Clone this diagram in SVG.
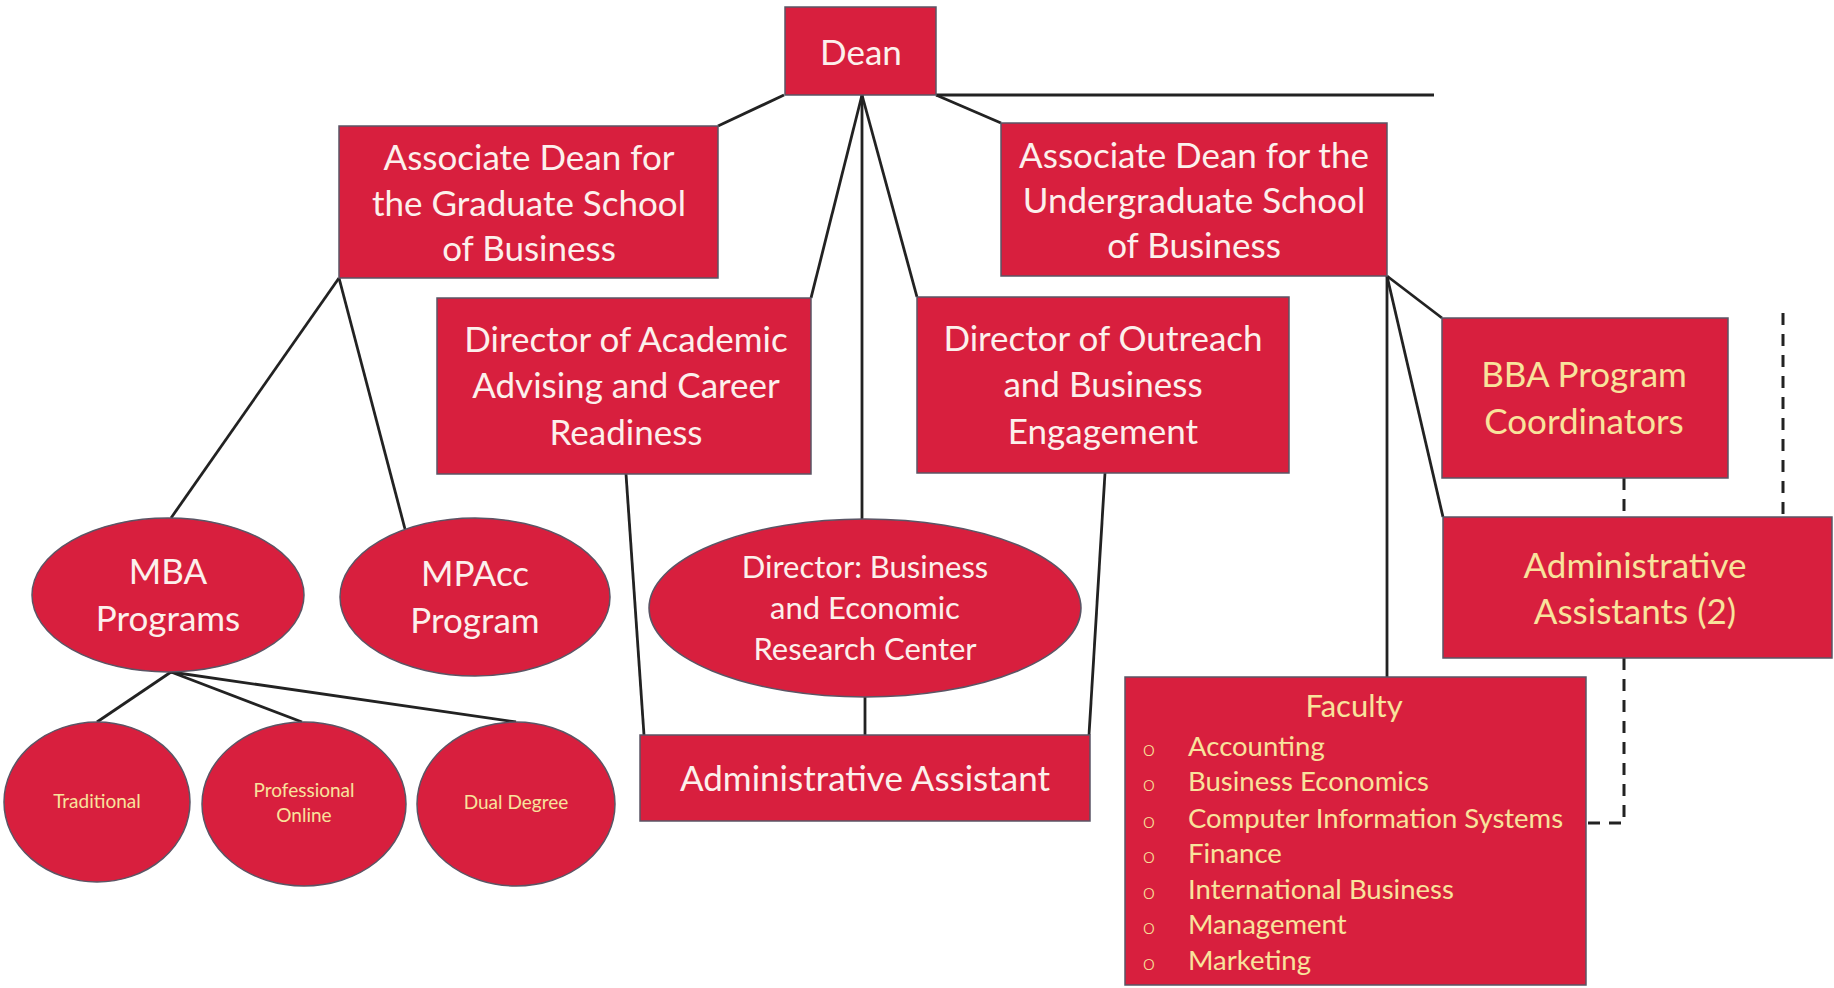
<svg xmlns="http://www.w3.org/2000/svg" width="1834" height="988" viewBox="0 0 1834 988">
<style>
.box{fill:#D81F3E;stroke:#5b5565;stroke-width:1.5}
.ln{stroke:#222;stroke-width:2.8;fill:none}
.dash{stroke:#222;stroke-width:3;fill:none;stroke-dasharray:12 9}
text{font-family:Lato,"Open Sans","Liberation Sans",sans-serif;text-anchor:middle}
.w{fill:#FCF0EC}
.y{fill:#F8E39C}
.big{font-size:35px}
.mid{font-size:31px}
.sm{font-size:19px}
text.li{font-size:27.5px;text-anchor:start}
text.bu{font-size:22px;text-anchor:middle;font-weight:300}
</style>
<rect width="1834" height="988" fill="#fff"/>
<g id="connectors">
<line class="ln" x1="936" y1="95" x2="1434" y2="95"/>
<line class="ln" x1="784" y1="95" x2="718" y2="126"/>
<line class="ln" x1="936" y1="95" x2="1001" y2="123"/>
<line class="ln" x1="862" y1="95" x2="811" y2="298"/>
<line class="ln" x1="862" y1="95" x2="862" y2="519"/>
<line class="ln" x1="862" y1="95" x2="917" y2="297"/>
<line class="ln" x1="339" y1="278" x2="171" y2="518"/>
<line class="ln" x1="339" y1="278" x2="405" y2="529"/>
<line class="ln" x1="626" y1="474" x2="644" y2="735"/>
<line class="ln" x1="1105" y1="473" x2="1089" y2="735"/>
<line class="ln" x1="865" y1="697" x2="865" y2="735"/>
<line class="ln" x1="1387" y1="276" x2="1442" y2="318"/>
<line class="ln" x1="1387" y1="276" x2="1443" y2="517"/>
<line class="ln" x1="1387" y1="276" x2="1387" y2="677"/>
<line class="ln" x1="171" y1="672" x2="97" y2="722"/>
<line class="ln" x1="171" y1="672" x2="302" y2="722"/>
<line class="ln" x1="171" y1="672" x2="516" y2="722"/>
<line class="dash" x1="1624" y1="478" x2="1624" y2="517"/>
<line class="dash" x1="1783" y1="313" x2="1783" y2="517"/>
<polyline class="dash" points="1624,658 1624,823 1586,823"/>
</g>
<g id="dean">
<rect class="box" x="785" y="7" width="151" height="88"/>
<text class="w big" x="861" y="65">Dean</text>
</g>
<g id="assoc-grad">
<rect class="box" x="339" y="126" width="379" height="152"/>
<text class="w big" x="529" y="170">Associate Dean for</text>
<text class="w big" x="529" y="216">the Graduate School</text>
<text class="w big" x="529" y="261">of Business</text>
</g>
<g id="assoc-undergrad">
<rect class="box" x="1001" y="123" width="386" height="153"/>
<text class="w big" x="1194" y="168">Associate Dean for the</text>
<text class="w big" x="1194" y="213">Undergraduate School</text>
<text class="w big" x="1194" y="258">of Business</text>
</g>
<g id="dir-advising">
<rect class="box" x="437" y="298" width="374" height="176"/>
<text class="w big" x="626" y="352">Director of Academic</text>
<text class="w big" x="626" y="398">Advising and Career</text>
<text class="w big" x="626" y="445">Readiness</text>
</g>
<g id="dir-outreach">
<rect class="box" x="917" y="297" width="372" height="176"/>
<text class="w big" x="1103" y="351">Director of Outreach</text>
<text class="w big" x="1103" y="397">and Business</text>
<text class="w big" x="1103" y="444">Engagement</text>
</g>
<g id="bba">
<rect class="box" x="1442" y="318" width="286" height="160"/>
<text class="y big" x="1584" y="387">BBA Program</text>
<text class="y big" x="1584" y="434">Coordinators</text>
</g>
<g id="admin2">
<rect class="box" x="1443" y="517" width="389" height="141"/>
<text class="y big" x="1635" y="578">Administrative</text>
<text class="y big" x="1635" y="624">Assistants (2)</text>
</g>
<g id="faculty">
<rect class="box" x="1125" y="677" width="461" height="308"/>
<text class="y mid" x="1354" y="717">Faculty</text>
<text class="y bu" x="1149" y="756">o</text><text class="y li" x="1188" y="756">Accounting</text>
<text class="y bu" x="1149" y="791">o</text><text class="y li" x="1188" y="791">Business Economics</text>
<text class="y bu" x="1149" y="828">o</text><text class="y li" x="1188" y="828">Computer Information Systems</text>
<text class="y bu" x="1149" y="863">o</text><text class="y li" x="1188" y="863">Finance</text>
<text class="y bu" x="1149" y="899">o</text><text class="y li" x="1188" y="899">International Business</text>
<text class="y bu" x="1149" y="934">o</text><text class="y li" x="1188" y="934">Management</text>
<text class="y bu" x="1149" y="970">o</text><text class="y li" x="1188" y="970">Marketing</text>
</g>
<g id="admin-assistant">
<rect class="box" x="640" y="735" width="450" height="86"/>
<text class="w big" x="865" y="791">Administrative Assistant</text>
</g>
<g id="dir-research">
<ellipse class="box" cx="865" cy="608" rx="216" ry="89"/>
<text class="w mid" x="865" y="578">Director: Business</text>
<text class="w mid" x="865" y="619">and Economic</text>
<text class="w mid" x="865" y="660">Research Center</text>
</g>
<g id="mba">
<ellipse class="box" cx="168" cy="595" rx="136" ry="77"/>
<text class="w big" x="168" y="584">MBA</text>
<text class="w big" x="168" y="631">Programs</text>
</g>
<g id="mpacc">
<ellipse class="box" cx="475" cy="597" rx="135" ry="79"/>
<text class="w big" x="475" y="586">MPAcc</text>
<text class="w big" x="475" y="633">Program</text>
</g>
<g id="traditional">
<ellipse class="box" cx="97" cy="802" rx="93" ry="80"/>
<text class="y sm" x="97" y="808">Traditional</text>
</g>
<g id="professional-online">
<ellipse class="box" cx="304" cy="804" rx="102" ry="82"/>
<text class="y sm" x="304" y="797">Professional</text>
<text class="y sm" x="304" y="822">Online</text>
</g>
<g id="dual-degree">
<ellipse class="box" cx="516" cy="804" rx="99" ry="82"/>
<text class="y sm" x="516" y="809">Dual Degree</text>
</g>
</svg>
